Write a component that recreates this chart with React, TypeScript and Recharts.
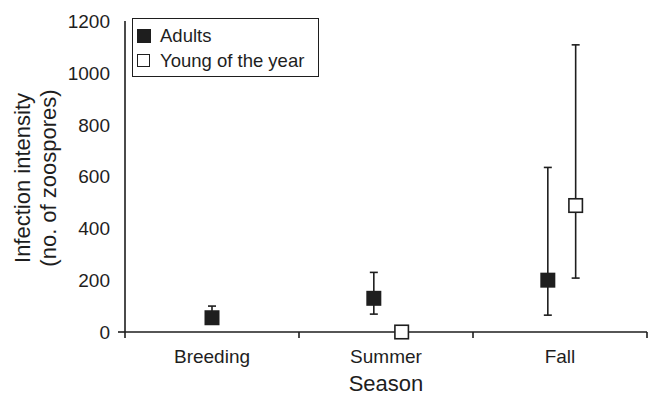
import { ScatterChart, Scatter, XAxis, YAxis, ErrorBar, Legend, Label } from "recharts";

const categories = ["Breeding", "Summer", "Fall"];
const adultMean = [55, 130, 200];
const adultLow = [30, 69, 65];
const adultHigh = [100, 230, 635];
const youngMean: (number | null)[] = [null, 0, 488];
const youngLow: (number | null)[] = [null, 0, 208];
const youngHigh: (number | null)[] = [null, 0, 1108];
const yTicks = [0, 200, 400, 600, 800, 1000, 1200];

const INK = "#1e1e1e";
const FONT = "'Liberation Sans', Arial, Helvetica, sans-serif";
const ADULT_SHIFT = -0.07;
const YOUNG_SHIFT = 0.09;

const adults = categories.map((c, i) => ({
  season: c,
  x: i + 0.5 + (youngMean[i] == null ? 0 : ADULT_SHIFT),
  y: adultMean[i],
  err: [adultMean[i] - adultLow[i], adultHigh[i] - adultMean[i]],
}));

const young = categories.flatMap((c, i) =>
  youngMean[i] == null
    ? []
    : [
        {
          season: c,
          x: i + 0.5 + YOUNG_SHIFT,
          y: youngMean[i] as number,
          err: [
            (youngMean[i] as number) - (youngLow[i] as number),
            (youngHigh[i] as number) - (youngMean[i] as number),
          ],
        },
      ]
);

const xTicks = [0, 0.5, 1, 1.5, 2, 2.5, 3];

const XTick = ({ x, y, payload }: any) => {
  const v = payload.value;
  if (Number.isInteger(v)) {
    return <line x1={x} x2={x} y1={y} y2={y + 6} stroke={INK} strokeWidth={1.6} />;
  }
  return (
    <text x={x} y={y + 31} textAnchor="middle" fontSize={19} fill={INK} fontFamily={FONT}>
      {categories[Math.floor(v)]}
    </text>
  );
};

const YTick = ({ x, y, payload }: any) => (
  <g>
    {payload.value === 0 && <line x1={x - 7} x2={x} y1={y} y2={y} stroke={INK} strokeWidth={1.6} />}
    <text x={x - 15} y={y} dy="0.36em" textAnchor="end" fontSize={19} fill={INK} fontFamily={FONT}>
      {payload.value}
    </text>
  </g>
);

const filledSquare = ({ cx, cy }: any) => (
  <rect x={cx - 7.5} y={cy - 7.5} width={15} height={15} fill={INK} />
);

const openSquare = ({ cx, cy }: any) => (
  <rect x={cx - 6.75} y={cy - 6.75} width={13.5} height={13.5} fill="#fff" stroke={INK} strokeWidth={1.6} />
);

const renderLegend = ({ payload }: any) => (
  <div
    style={{
      border: `1px solid ${INK}`,
      width: 185,
      height: 57,
      boxSizing: "content-box",
      fontFamily: FONT,
      fontSize: 18.5,
      color: INK,
      background: "#fff",
    }}
  >
    {(payload || []).map((entry: any, i: number) => (
      <div key={entry.value} style={{ display: "flex", alignItems: "center", height: 25, marginTop: i === 0 ? 4 : 0 }}>
        <span
          style={{
            display: "inline-block",
            width: i === 0 ? 14 : 11,
            height: i === 0 ? 14 : 11,
            marginLeft: 4,
            marginRight: i === 0 ? 9 : 10,
            background: i === 0 ? INK : "#fff",
            border: i === 0 ? "none" : `1.5px solid ${INK}`,
          }}
        />
        <span>{entry.value}</span>
      </div>
    ))}
  </div>
);

const YTitle = () => (
  <g fontFamily={FONT} fontSize={22} fill={INK}>
    <text x={22} y={178} transform="rotate(-90 22 178)" textAnchor="middle" dominantBaseline="central">
      Infection intensity
    </text>
    <text x={48} y={178} transform="rotate(-90 48 178)" textAnchor="middle" dominantBaseline="central">
      (no. of zoospores)
    </text>
  </g>
);

export default function App() {
  return (
    <div style={{ width: 649, height: 395, background: "#fff" }}>
      <style>{`body{margin:0}`}</style>
      <ScatterChart width={649} height={395} margin={{ top: 21, right: 2, bottom: 0, left: 0 }}>
        <XAxis
          type="number"
          dataKey="x"
          domain={[0, 3]}
          ticks={xTicks}
          interval={0}
          tick={<XTick />}
          tickLine={false}
          tickSize={0}
          tickMargin={0}
          height={63}
          axisLine={{ stroke: INK, strokeWidth: 1.6 }}
        >
          <Label
            value="Season"
            position="insideBottom"
            offset={4}
            style={{ fontSize: 22, fill: INK, fontFamily: FONT }}
          />
        </XAxis>
        <YAxis
          type="number"
          dataKey="y"
          domain={[0, 1200]}
          ticks={yTicks}
          interval={0}
          tick={<YTick />}
          tickLine={false}
          tickSize={0}
          tickMargin={0}
          width={125}
          axisLine={{ stroke: INK, strokeWidth: 1.6 }}
        >
          <Label content={<YTitle />} />
        </YAxis>
        <Legend
          layout="vertical"
          align="center"
          verticalAlign="middle"
          content={renderLegend}
          wrapperStyle={{ top: 18, left: 132, width: "auto" }}
        />
        <Scatter name="Adults" data={adults} fill={INK} shape={filledSquare} isAnimationActive={false}>
          <ErrorBar dataKey="err" direction="y" width={4} stroke={INK} strokeWidth={1.6} />
        </Scatter>
        <Scatter name="Young of the year" data={young} fill="#fff" shape={openSquare} isAnimationActive={false}>
          <ErrorBar dataKey="err" direction="y" width={4} stroke={INK} strokeWidth={1.6} />
        </Scatter>
      </ScatterChart>
    </div>
  );
}
